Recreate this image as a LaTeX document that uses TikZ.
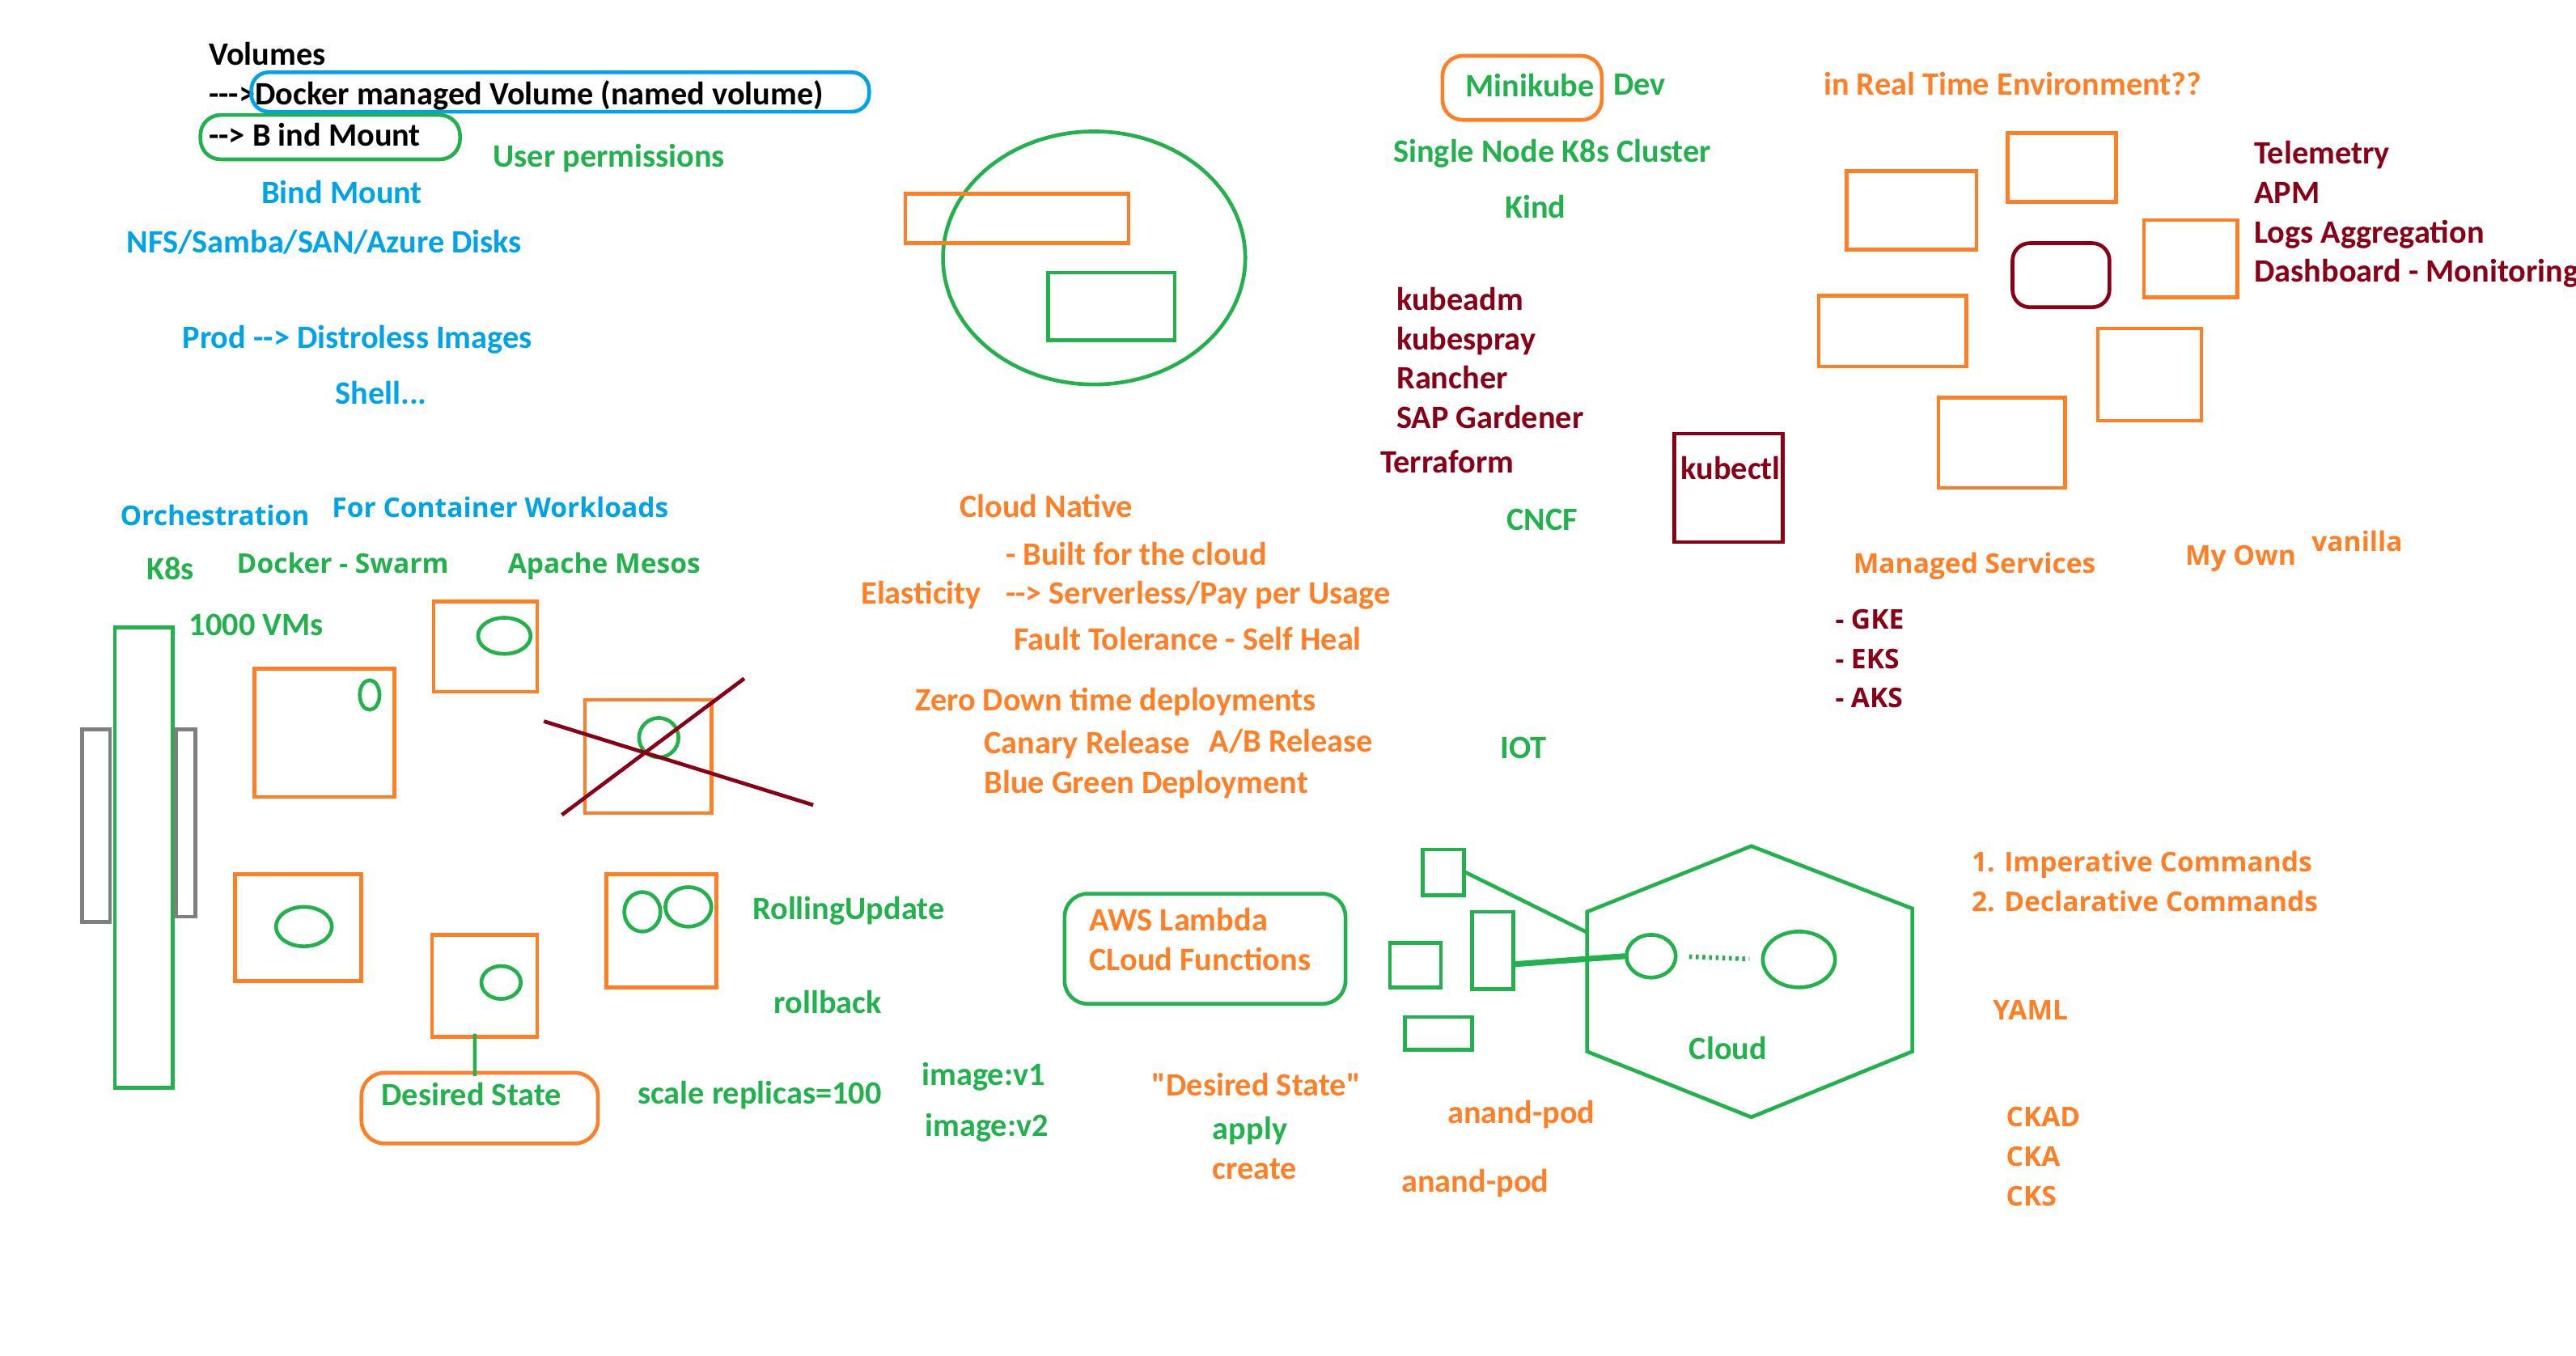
\documentclass[tikz,border=0pt]{standalone}
\usepackage{fontspec}
\newfontfamily\calib{Carlito}
\newfontfamily\segoe{Open Sans}
\usetikzlibrary{shapes.geometric}

\definecolor{pgreen}{HTML}{22B14C}
\definecolor{porange}{HTML}{FF7F27}
\definecolor{pblue}{HTML}{00A2E8}
\definecolor{pred}{HTML}{880015}
\definecolor{pgray}{HTML}{7F7F7F}

\tikzset{
  txt/.style={anchor=mid west,inner sep=0pt,yshift=-0.06cm,font=\calib\fontsize{11.3}{13}\selectfont\bfseries},
  sg/.style={anchor=mid west,inner sep=0pt,yshift=-0.06cm,font=\segoe\fontsize{9.4}{11}\selectfont\bfseries},
  gbox/.style={draw=pgreen,inner sep=0pt},
  obox/.style={draw=porange,inner sep=0pt},
  pod/.style={draw=pgreen,ellipse,inner sep=0pt}
}

\begin{document}
\begin{tikzpicture}[x=0.02cm,y=-0.02cm,line width=1.3pt]
      \useasboundingbox (0,0) rectangle (1568,825);
      % volumes
      \node[txt] (vol)      at (126,33) {Volumes};
      \node[txt] (dockvol)  at (126,57) {--->Docker managed Volume (named volume)};
      \node[txt] (bindarr)  at (126,82) {--> B ind Mount};
      \draw[pblue,rounded corners=6pt]  (153,44) rectangle (529,68);
      \draw[pgreen,rounded corners=7pt] (122,70) rectangle (280,97);
      \node[txt,pgreen] (userperm) at (299,95)  {User permissions};
      \node[txt,pblue]  (bindmnt)  at (158,117) {Bind Mount};
      \node[txt,pblue]  (nfs)      at (76,147)  {NFS/Samba/SAN/Azure Disks};
      \node[txt,pblue]  (prod)     at (110,205) {Prod --> Distroless Images};
      \node[txt,pblue]  (shell)    at (203,239) {Shell...};
      % circle sketch
      \draw[pgreen]  (666,157) ellipse (92 and 77);
      \draw[porange] (551,118) rectangle (687,148);
      \draw[pgreen]  (638,166) rectangle (715,207);
      % local clusters
      \node[obox,rounded corners=7pt,minimum width=1.94cm,minimum height=0.78cm] (minibox) at (926.5,53.5) {};
      \node[txt,pgreen] (minikube) at (891,52)  {Minikube};
      \node[txt,pgreen] (dev)      at (981,51)  {Dev};
      \node[txt,pgreen] (single)   at (847,92)  {Single Node K8s Cluster};
      \node[txt,pgreen] (kind)     at (915,126) {Kind};
      \node[txt,pred]   (kubeadm)  at (849,182) {kubeadm};
      \node[txt,pred]   (kubespr)  at (849,206) {kubespray};
      \node[txt,pred]   (rancher)  at (849,230) {Rancher};
      \node[txt,pred]   (gardener) at (849,254) {SAP Gardener};
      \node[txt,pred]   (terra)    at (839,281) {Terraform};
      \draw[pred] (1019,264) rectangle (1085,330);
      \node[txt,pred]   (kubectl)  at (1022,285) {kubectl};
      \node[txt,pgreen] (cncf)     at (916,316) {CNCF};
      % real time env
      \node[txt,porange] (realtime) at (1109,51) {in Real Time Environment??};
      \draw[porange] (1124,104) rectangle (1203,152);
      \draw[porange] (1222,81)  rectangle (1288,123);
      \draw[pred,rounded corners=6pt] (1225,148) rectangle (1284,187);
      \draw[porange] (1305,134) rectangle (1362,181);
      \draw[porange] (1107,180) rectangle (1197,223);
      \draw[porange] (1277,200) rectangle (1340,256);
      \draw[porange] (1180,242) rectangle (1257,297);
      \node[txt,pred] (telem) at (1371,93)  {Telemetry};
      \node[txt,pred] (apm)   at (1371,117) {APM};
      \node[txt,pred] (logs)  at (1371,141) {Logs Aggregation};
      \node[txt,pred] (dash)  at (1371,165) {Dashboard - Monitoring};
      \node[sg,porange] (managed) at (1127,342) {Managed Services};
      \node[sg,porange] (myown)   at (1329,337) {My Own};
      \node[sg,porange] (vanilla) at (1406,329) {vanilla};
      \node[sg,pred] (gke) at (1116,376) {- GKE};
      \node[sg,pred] (eks) at (1116,400) {- EKS};
      \node[sg,pred] (aks) at (1116,424) {- AKS};
      % orchestration
      \node[sg,pblue]   (orch)     at (72,313)  {Orchestration};
      \node[sg,pblue]   (workload) at (201,308) {For Container Workloads};
      \node[txt,pgreen] (k8s)      at (88,346)  {K8s};
      \node[sg,pgreen]  (swarm)    at (143,342) {Docker - Swarm};
      \node[sg,pgreen]  (mesos)    at (308,342) {Apache Mesos};
      \node[txt,pgreen] (vms)      at (114,380) {1000 VMs};
      \draw[pgreen] (70,382)  rectangle (105,662);
      \draw[pgray]  (50,444)  rectangle (67,561);
      \draw[pgray]  (107,444) rectangle (119,558);
      \draw[porange] (155,407) rectangle (240,485);
      \draw[pgreen]  (225,423) ellipse (6 and 9);
      \draw[porange] (264,366) rectangle (327,421);
      \draw[pgreen]  (307,387) ellipse (16 and 11);
      \draw[porange] (356,426) rectangle (433,495);
      \draw[pgreen]  (401,449) ellipse (12 and 12);
      \draw[pred] (331,439) -- (495,490);
      \draw[pred] (342,496) -- (453,413);
      \draw[porange] (143,532) rectangle (220,597);
      \draw[pgreen]  (185,564) ellipse (17 and 12);
      \draw[porange] (369,532) rectangle (436,601);
      \draw[pgreen]  (391,555) ellipse (11 and 12);
      \draw[pgreen]  (419,552) ellipse (14 and 12);
      \node[obox,minimum width=1.28cm,minimum height=1.24cm] (rsbox) at (295,600) {};
      \draw[pgreen]  (305,598) ellipse (12 and 10);
      \node[obox,rounded corners=8pt,minimum width=2.88cm,minimum height=0.86cm] (desired) at (292,674.5) {};
      \draw[pgreen] ([xshift=-0.12cm,yshift=0.06cm]rsbox.south) -- ([xshift=-0.06cm,yshift=-0.06cm]desired.north);
      \node[txt,pgreen] (desiredtxt) at (231,666) {Desired State};
      \node[txt,pgreen] (rolling)  at (457,553) {RollingUpdate};
      \node[txt,pgreen] (rollback) at (470,610) {rollback};
      \node[txt,pgreen] (scale)    at (387,665) {scale replicas=100};
      \node[txt,pgreen] (imgone)   at (560,654) {image:v1};
      \node[txt,pgreen] (imgtwo)   at (562,685) {image:v2};
      % cloud native
      \node[txt,porange] (native)   at (583,308) {Cloud Native};
      \node[txt,porange] (built)    at (611,337) {- Built for the cloud};
      \node[txt,porange] (elastic)  at (523,361) {Elasticity};
      \node[txt,porange] (serverl)  at (611,361) {--> Serverless/Pay per Usage};
      \node[txt,porange] (fault)    at (616,389) {Fault Tolerance - Self Heal};
      \node[txt,porange] (zerodown) at (556,426) {Zero Down time deployments};
      \node[txt,porange] (canary)   at (598,452) {Canary Release};
      \node[txt,porange] (abrel)    at (735,451) {A/B Release};
      \node[txt,porange] (bluegr)   at (598,476) {Blue Green Deployment};
      \node[txt,pgreen]  (iot)      at (912,455) {IOT};
      % serverless and cloud
      \draw[pgreen,rounded corners=8pt] (648,544) rectangle (819,611);
      \node[txt,porange] (lambda)  at (662,560) {AWS Lambda};
      \node[txt,porange] (cfunc)   at (662,584) {CLoud Functions};
      \node[txt,porange] (dstate)  at (700,660) {"Desired State"};
      \node[txt,pgreen]  (apply)   at (737,687) {apply};
      \node[txt,porange] (create)  at (737,711) {create};
      \node[txt,porange] (podone)  at (880,677) {anand-pod};
      \node[txt,porange] (podtwo)  at (852,719) {anand-pod};
      \node[gbox,minimum width=0.5cm,minimum height=0.56cm] (podbox1) at (878.5,531) {};
      \node[gbox,minimum width=0.5cm,minimum height=0.94cm] (podbox2) at (908.5,578.5) {};
      \draw[pgreen] (846,574) rectangle (877,601);
      \draw[pgreen] (855,619) rectangle (896,639);
      \draw[pgreen] (1066,515) -- (1164,553) -- (1164,640) -- (1066,680) -- (966,640) -- (966,555) -- cycle;
      \coordinate (hexl) at (967,568);
      \node[pod,minimum width=0.6cm,minimum height=0.52cm]  (pod1) at (1005,582) {};
      \node[pod,minimum width=0.88cm,minimum height=0.68cm] (pod2) at (1095,584) {};
      \draw[pgreen] (podbox1.east) -- (hexl);
      \draw[pgreen,line width=2pt] ([xshift=-0.04cm,yshift=-0.17cm]podbox2.east) -- (pod1.west);
      \draw[pgreen,line width=1.6pt,dash pattern=on 1pt off 1.3pt,shorten <=4pt,shorten >=4pt] (pod1.east) -- (pod2.west);
      \node[txt,pgreen] (cloud) at (1027,638) {Cloud};
      % commands
      \node[sg,porange] (imper) at (1199,524) {1. Imperative Commands};
      \node[sg,porange] (decl)  at (1199,548) {2. Declarative Commands};
      \node[sg,porange] (yaml)  at (1212,614) {YAML};
      \node[sg,porange] (ckad)  at (1220,679) {CKAD};
      \node[sg,porange] (cka)   at (1220,703) {CKA};
      \node[sg,porange] (cks)   at (1220,727) {CKS};
\end{tikzpicture}
\end{document}
